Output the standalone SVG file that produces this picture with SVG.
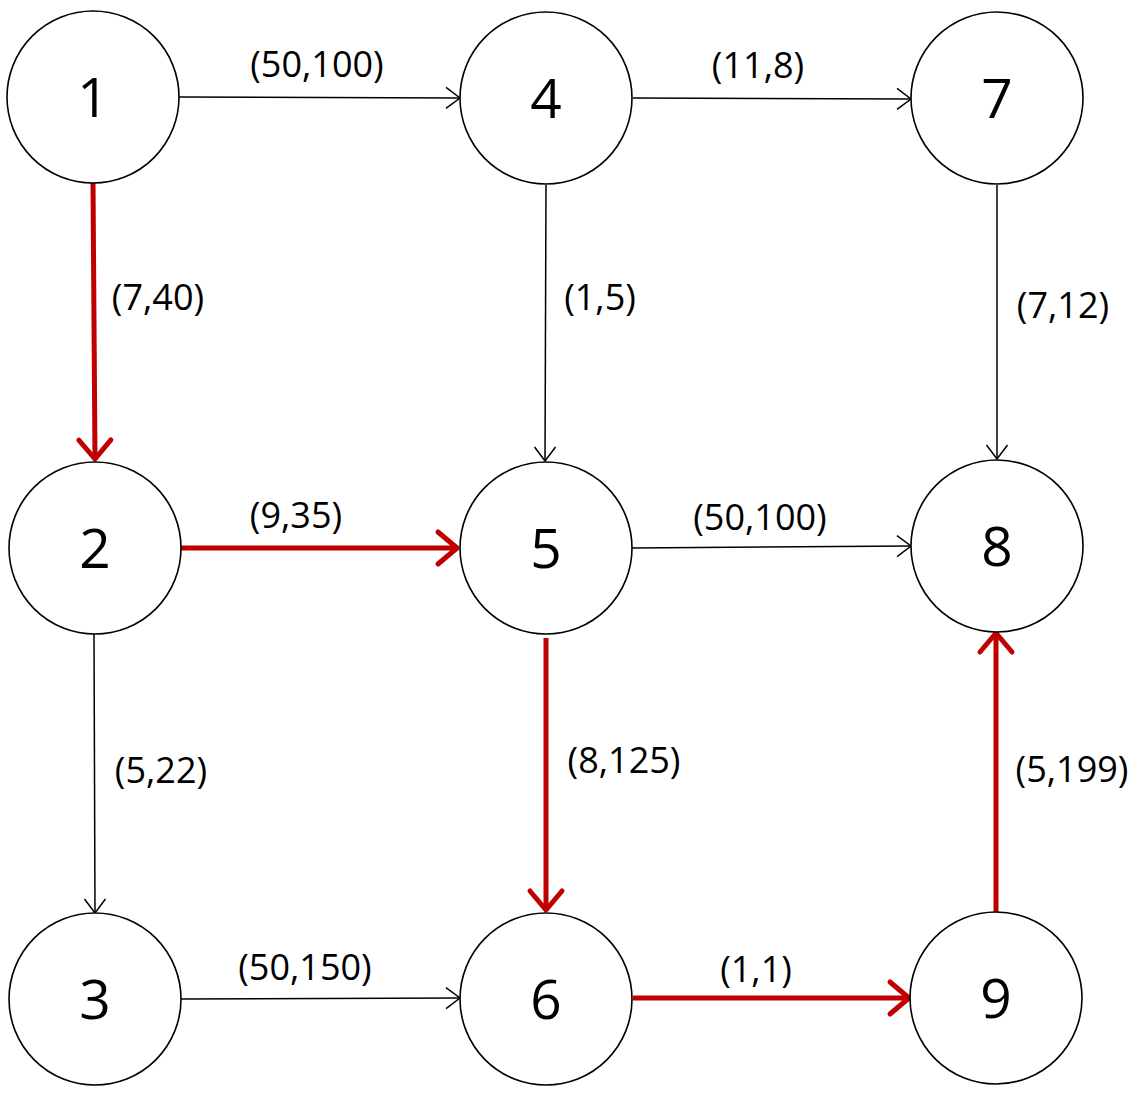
<svg xmlns="http://www.w3.org/2000/svg" width="1148" height="1099" viewBox="0 0 1148 1099">
<style>
.node circle{fill:#fff;stroke:#000;stroke-width:1.6}
.node text{font-family:"Open Sans","Liberation Sans",sans-serif;font-size:55px;text-anchor:middle;fill:#000}
.lbl{font-family:"Open Sans","Liberation Sans",sans-serif;font-size:36px;text-anchor:middle;fill:#000}
.e{stroke:#000;stroke-width:1.5;fill:none}
.r{stroke:#C00000;stroke-width:5;fill:none}
</style>
<defs>
<marker id="ab" markerUnits="userSpaceOnUse" markerWidth="30" markerHeight="30" viewBox="-20 -15 22 30" refX="0" refY="0" orient="auto">
<path d="M-14,-10.5 L0,0 L-14,10.5" fill="none" stroke="#000" stroke-width="1.5"/>
</marker>
<marker id="ar" markerUnits="userSpaceOnUse" markerWidth="40" markerHeight="44" viewBox="-26 -22 30 44" refX="0" refY="0" orient="auto">
<path d="M-20,-16 L-1,0 L-20,16" fill="none" stroke="#C00000" stroke-width="5" stroke-linecap="round" stroke-linejoin="round"/>
</marker>
</defs>
<g id="connectors">
<line class="e" x1="179" y1="97" x2="460" y2="98" marker-end="url(#ab)"/>
<line class="e" x1="633" y1="98" x2="911" y2="99" marker-end="url(#ab)"/>
<line class="r" x1="93" y1="183" x2="95" y2="460" marker-end="url(#ar)"/>
<line class="e" x1="546" y1="185" x2="545" y2="461" marker-end="url(#ab)"/>
<line class="e" x1="997" y1="185" x2="997" y2="459" marker-end="url(#ab)"/>
<line class="r" x1="181" y1="548" x2="458" y2="548" marker-end="url(#ar)"/>
<line class="e" x1="632" y1="548" x2="911" y2="546" marker-end="url(#ab)"/>
<line class="e" x1="94" y1="634" x2="95" y2="913" marker-end="url(#ab)"/>
<line class="r" x1="546" y1="638" x2="546" y2="911" marker-end="url(#ar)"/>
<line class="r" x1="996" y1="912" x2="996" y2="632" marker-end="url(#ar)"/>
<line class="e" x1="181" y1="999" x2="460" y2="998" marker-end="url(#ab)"/>
<line class="r" x1="633" y1="998" x2="910" y2="998" marker-end="url(#ar)"/>
<text class="lbl" x="317" y="77">(50,100)</text>
<text class="lbl" x="758" y="78">(11,8)</text>
<text class="lbl" x="158" y="310">(7,40)</text>
<text class="lbl" x="600" y="310">(1,5)</text>
<text class="lbl" x="1063" y="318">(7,12)</text>
<text class="lbl" x="296" y="528">(9,35)</text>
<text class="lbl" x="760" y="530">(50,100)</text>
<text class="lbl" x="161" y="783">(5,22)</text>
<text class="lbl" x="624" y="773">(8,125)</text>
<text class="lbl" x="1072" y="782">(5,199)</text>
<text class="lbl" x="305" y="980">(50,150)</text>
<text class="lbl" x="756" y="982">(1,1)</text>
</g>
<g id="node1" class="node"><circle cx="93" cy="97" r="86"/><text x="93" y="117">1</text></g>
<g id="node4" class="node"><circle cx="546" cy="98" r="86"/><text x="546" y="118">4</text></g>
<g id="node7" class="node"><circle cx="997" cy="98" r="86"/><text x="997" y="118">7</text></g>
<g id="node2" class="node"><circle cx="95" cy="548" r="86"/><text x="95" y="568">2</text></g>
<g id="node5" class="node"><circle cx="546" cy="548" r="86"/><text x="546" y="568">5</text></g>
<g id="node8" class="node"><circle cx="997" cy="546" r="86"/><text x="997" y="566">8</text></g>
<g id="node3" class="node"><circle cx="95" cy="999" r="86"/><text x="95" y="1019">3</text></g>
<g id="node6" class="node"><circle cx="546" cy="999" r="86"/><text x="546" y="1019">6</text></g>
<g id="node9" class="node"><circle cx="996" cy="998" r="86"/><text x="996" y="1018">9</text></g>
</svg>
